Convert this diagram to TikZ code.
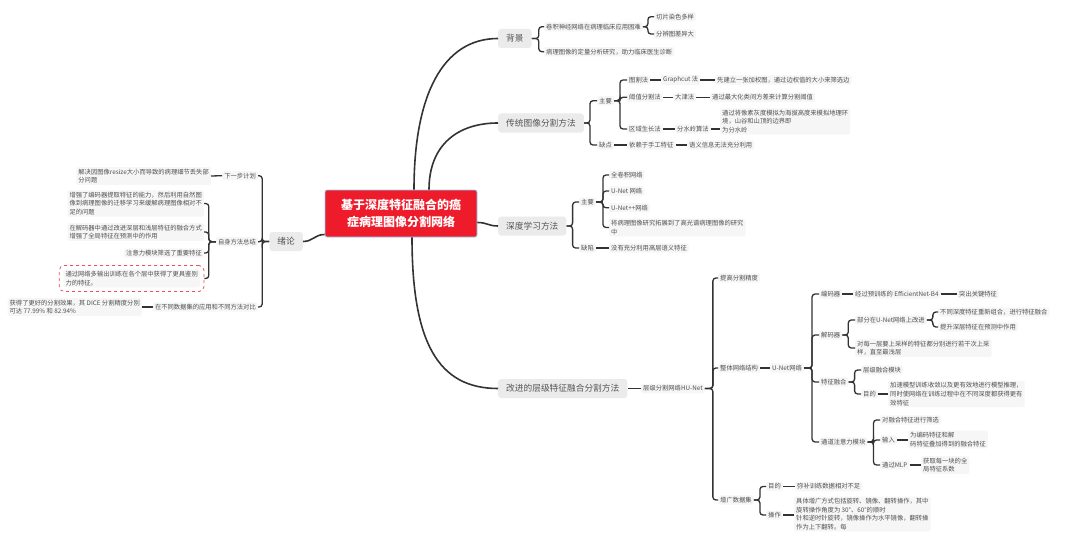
\documentclass[tikz,border=0pt]{standalone}
\usepackage{fontspec}
\setmainfont{Noto Sans CJK SC}
\usetikzlibrary{fit}
\definecolor{txt}{HTML}{505050}
\definecolor{boxf}{HTML}{F6F6F6}
\definecolor{lonef}{HTML}{EBEBEB}
\definecolor{lonetxt}{HTML}{555555}
\definecolor{lnc}{HTML}{333333}
\definecolor{ttlred}{HTML}{EE1C2B}
\definecolor{ttlborder}{HTML}{8ECFF2}
\definecolor{dashred}{HTML}{F0505A}
\begin{document}
\begin{tikzpicture}[x=1pt,y=-1pt,
  every node/.style={inner sep=0pt},
  sm/.style={font=\fontsize{6.3}{8.6}\selectfont, text=txt, fill=boxf, rounded corners=1.5pt, inner xsep=2pt, inner ysep=1.6pt, align=left},
  smw/.style={sm, anchor=west},
  sme/.style={sm, anchor=east},
  lone/.style={font=\fontsize{8.7}{10}\selectfont, text=lonetxt, fill=lonef, rounded corners=3pt, inner xsep=8pt, minimum height=19pt},
  lonew/.style={lone, anchor=west},
  ttl/.style={fill=ttlred, draw=ttlborder, line width=0.8pt, text=white, font=\fontsize{12}{17}\selectfont\bfseries, align=center, minimum width=152pt, minimum height=47pt, rounded corners=2pt},
  ln/.style={draw=lnc, line width=1.3pt, rounded corners=3pt},
  mainln/.style={draw=lnc, line width=1.6pt}
]
\fill[white] (0,0) rectangle (1080,551);
\useasboundingbox (0,0) rectangle (1080,551);

% ---- title
\node[ttl] (T) at (401,213.5) {基于深度特征融合的癌\\症病理图像分割网络};

% ---- level 1
\node[lonew] (bg) at (498,38.5) {背景};
\node[lonew] (tr) at (498,123) {传统图像分割方法};
\node[lonew] (dl) at (498,226) {深度学习方法};
\node[lonew] (gj) at (498,388.5) {改进的层级特征融合分割方法};
\node[lone, anchor=east] (xl) at (303,241.5) {绪论};

\draw[mainln] ([xshift=13pt]T.north) .. controls +(0,-95) and +(-55,0) .. (bg.west);
\draw[mainln] ([xshift=28pt]T.north) .. controls +(0,-45) and +(-40,0) .. (tr.west);
\draw[mainln] ([yshift=-9pt]T.east) .. controls +(10,0) and +(-10,0) .. (dl.west);
\draw[mainln] ([xshift=11pt]T.south) .. controls +(0,105) and +(-60,0) .. (gj.west);
\draw[mainln] ([yshift=-21pt]T.west) .. controls +(-10,0) and +(10,0) .. (xl.east);

% ---- 背景
\node[smw] (bg1) at (544,26.7) {卷积神经网络在病理临床应用困难};
\node[smw] (bg2) at (544,51.7) {病理图像的定量分析研究，助力临床医生诊断};
\node[smw] (bg11) at (654,16.7) {切片染色多样};
\node[smw] (bg12) at (654,34) {分辨图差异大};
\foreach \c in {bg1,bg2} \draw[ln] (bg.east) -- ++(7,0) |- (\c.west);
\foreach \c in {bg11,bg12} \draw[ln] (bg1.east) -- ++(5,0) |- (\c.west);

% ---- 传统图像分割方法
\node[smw] (tr1) at (597,100.7) {主要};
\node[smw] (tr2) at (597,145) {缺点};
\foreach \c in {tr1,tr2} \draw[ln] (tr.east) -- ++(6,0) |- (\c.west);
\node[smw] (tr11) at (627,80) {图割法};
\node[smw] (tr12) at (627,97.3) {阈值分割法};
\node[smw] (tr13) at (627,129) {区域生长法};
\foreach \c in {tr11,tr12,tr13} \draw[ln] (tr1.east) -- ++(6,0) |- (\c.west);
\node[smw] (tr111) at (661,80) {Graphcut 法};
\node[smw] (tr112) at (715,80) {先建立一张加权图，通过边权值的大小来筛选边};
\node[smw] (tr121) at (673,97.3) {大津法};
\node[smw] (tr122) at (710,97.3) {通过最大化类间方差来计算分割阈值};
\node[smw] (tr131) at (675,129) {分水岭算法};
\node[smw] (tr132) at (720,121.5) {通过将像素灰度模拟为海拔高度来模拟地理环\\境，山谷和山顶的边界即\\为分水岭};
\node[smw] (tr21) at (627,145) {依赖于手工特征};
\node[smw] (tr22) at (687,145) {语义信息无法充分利用};
\draw[ln] (tr11.east) -- (tr111.west);
\draw[ln] (tr111.east) -- (tr112.west);
\draw[ln] (tr12.east) -- (tr121.west);
\draw[ln] (tr121.east) -- (tr122.west);
\draw[ln] (tr13.east) -- (tr131.west);
\draw[ln] (tr131.east) -- (tr131.east -| tr132.west);
\draw[ln] (tr2.east) -- (tr21.west);
\draw[ln] (tr21.east) -- (tr22.west);

% ---- 深度学习方法
\node[smw] (dl1) at (579,202) {主要};
\node[smw] (dl2) at (579,248) {缺陷};
\foreach \c in {dl1,dl2} \draw[ln] (dl.east) -- ++(6,0) |- (\c.west);
\node[smw] (dl11) at (609,175) {全卷积网络};
\node[smw] (dl12) at (609,191) {U-Net 网络};
\node[smw] (dl13) at (609,207.7) {U-Net++网络};
\node[smw] (dl14) at (609,227.5) {将病理图像研究拓展到了高光谱病理图像的研究\\中};
\foreach \c in {dl11,dl12,dl13,dl14} \draw[ln] (dl1.east) -- ++(7,0) |- (\c.west);
\node[smw] (dl21) at (609,248) {没有充分利用高层语义特征};
\draw[ln] (dl2.east) -- (dl21.west);

% ---- 改进的层级特征融合分割方法
\node[smw] (hu) at (641,388.5) {层级分割网络HU-Net};
\draw[ln] (gj.east) -- (hu.west);
\node[smw] (hu1) at (718,278) {提高分割精度};
\node[smw] (hu2) at (718,368) {整体网络结构};
\node[smw] (ag) at (718,500) {增广数据集};
\foreach \c in {hu1,hu2,ag} \draw[ln] (hu.east) -- ++(8,0) |- (\c.west);
\node[smw] (un) at (770,368) {U-Net网络};
\draw[ln] (hu2.east) -- (un.west);
\node[smw] (en) at (819,294) {编码器};
\node[smw] (de) at (819,335) {解码器};
\node[smw] (ff) at (819,382) {特征融合};
\node[smw] (ca) at (819,442) {通道注意力模块};
\foreach \c in {en,de,ff,ca} \draw[ln] (un.east) -- ++(8,0) |- (\c.west);
\node[smw] (en1) at (853,294) {经过预训练的 EfficientNet-B4};
\node[smw] (en2) at (957,294) {突出关键特征};
\draw[ln] (en.east) -- (en1.west);
\draw[ln] (en1.east) -- (en2.west);
\node[smw] (de1) at (855,320) {部分在U-Net网络上改进};
\node[smw] (de2) at (855,348) {对每一层要上采样的特征都分别进行若干次上采\\样，直至最浅层};
\foreach \c in {de1,de2} \draw[ln] (de.east) -- ++(6,0) |- (\c.west);
\node[smw] (de11) at (938,312) {不同深度特征重新组合，进行特征融合};
\node[smw] (de12) at (938,327) {提升深层特征在预测中作用};
\foreach \c in {de11,de12} \draw[ln] (de1.east) -- ++(6,0) |- (\c.west);
\node[smw] (ff1) at (861,370) {层级融合模块};
\node[smw] (ff2) at (861,394) {目的};
\foreach \c in {ff1,ff2} \draw[ln] (ff.east) -- ++(6,0) |- (\c.west);
\node[smw] (ff21) at (888,394) {加速模型训练收敛以及更有效地进行模型推理，\\同时使网络在训练过程中在不同深度都获得更有\\效特征};
\draw[ln] (ff2.east) -- (ff2.east -| ff21.west);
\node[smw] (ca1) at (880,420) {对融合特征进行筛选};
\node[smw] (ca2) at (880,440) {输入};
\node[smw] (ca3) at (880,465) {通过MLP};
\foreach \c in {ca1,ca2,ca3} \draw[ln] (ca.east) -- ++(6,0) |- (\c.west);
\node[smw] (ca21) at (908,439.5) {为编码特征和解\\码特征叠加得到的融合特征};
\node[smw] (ca31) at (921,465) {获取每一块的全\\局特征系数};
\draw[ln] (ca2.east) -- (ca2.east -| ca21.west);
\draw[ln] (ca3.east) -- (ca31.west);
\node[smw] (ag1) at (766,486.5) {目的};
\node[smw] (ag2) at (766,515) {操作};
\foreach \c in {ag1,ag2} \draw[ln] (ag.east) -- ++(6,0) |- (\c.west);
\node[smw] (ag11) at (795,486.5) {弥补训练数据相对不足};
\node[smw] (ag21) at (794,514) {具体增广方式包括旋转、镜像、翻转操作，其中\\旋转操作角度为 30°、60°的顺时\\针和逆时针旋转，镜像操作为水平镜像，翻转操\\作为上下翻转。每};
\draw[ln] (ag1.east) -- (ag11.west);
\draw[ln] (ag2.east) -- (ag2.east -| ag21.west);

% ---- 绪论
\node[sme] (xl1) at (258,175.7) {下一步计划};
\node[sme] (xl2) at (258,241.7) {自身方法总结};
\node[sme] (xl3) at (258,307) {在不同数据集的应用和不同方法对比};
\foreach \c in {xl1,xl2,xl3} \draw[ln] (xl.west) -- ++(-7,0) |- (\c.east);
\node[sme] (xl11) at (211,176) {解决因图像resize大小而导致的病理细节丢失部\\分问题};
\draw[ln] (xl1.west) -- (xl11.east);
\node[sme] (xl21) at (204,203.5) {增强了编码器提取特征的能力，然后利用自然图\\像到病理图像的迁移学习来缓解病理图像相对不\\足的问题};
\node[sme] (xl22) at (204,232) {在解码器中通过改进深层和浅层特征的融合方式\\增强了全局特征在预测中的作用};
\node[sme] (xl23) at (204,253) {注意力模块筛选了重要特征};
\node[sme] (xl24) at (200,278.5) {通过网络多输出训练在各个层中获得了更具鉴别\\力的特征。};
\node[draw=dashred, dashed, line width=0.8pt, rounded corners=5pt, fit=(xl24), inner xsep=4pt, inner ysep=4pt] (xl24box) {};
\foreach \c in {xl21,xl22,xl23,xl24box} \draw[ln] (xl2.west) -- ++(-7,0) |- (\c.east);
\node[sme] (xl31) at (142,307) {获得了更好的分割效果，其 DICE 分割精度分别\\可达 77.99\% 和 82.94\%};
\draw[ln] (xl3.west) -- (xl31.east);
\end{tikzpicture}
\end{document}
